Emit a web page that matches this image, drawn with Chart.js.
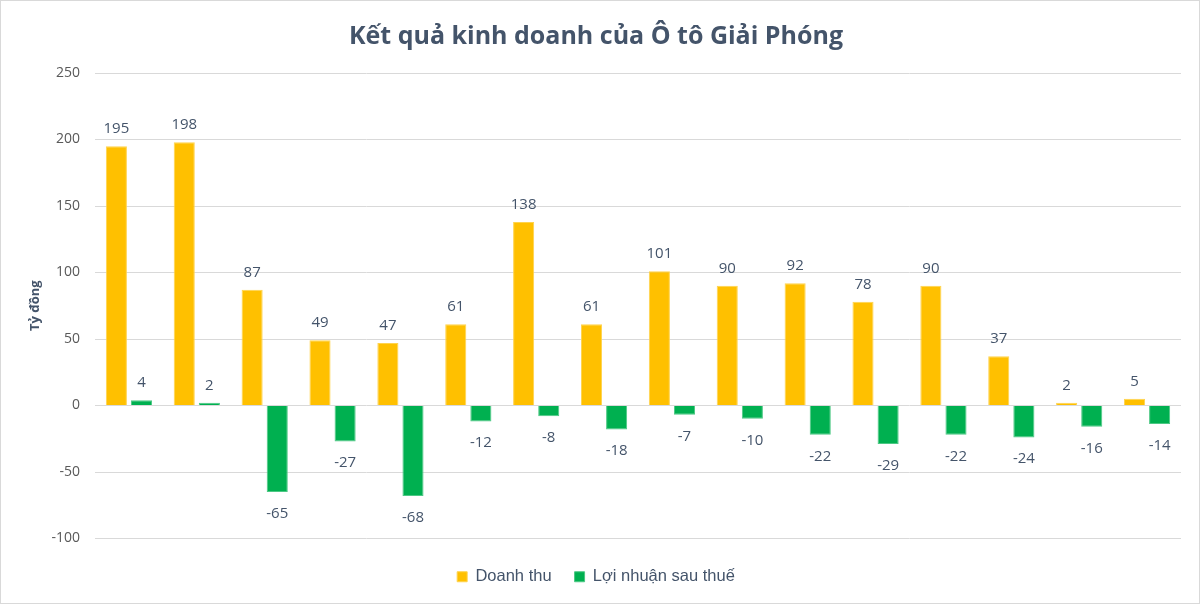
<!DOCTYPE html>
<html><head><meta charset="utf-8">
<script src="https://cdn.jsdelivr.net/npm/chart.js@4.4.0/dist/chart.umd.min.js"></script>
<style>
html,body{margin:0;padding:0;background:#fff;}
#wrap{position:absolute;left:0;top:0;width:1198px;height:602px;border:1px solid #d9d9d9;}
</style></head>
<body><div id="wrap"><canvas id="c" width="1198" height="602"></canvas></div>
<script>
const categories = ["1","2","3","4","5","6","7","8","9","10","11","12","13","14","15","16"];
const revenue = [195,198,87,49,47,61,138,61,101,90,92,78,90,37,2,5];
const profit = [4,2,-65,-27,-68,-12,-8,-18,-7,-10,-22,-29,-22,-24,-16,-14];
const yTicks = [250,200,150,100,50,0,-50,-100];

const labelPlugin = {
  id:'barLabels',
  afterDatasetsDraw(chart){
    const ctx = chart.ctx;
    ctx.save();
    ctx.font = '15px "Open Sans", sans-serif';
    ctx.fillStyle = '#44546A';
    ctx.textAlign = 'center';
    chart.data.datasets.forEach((ds,i)=>{
      const meta = chart.getDatasetMeta(i);
      meta.data.forEach((bar,j)=>{
        const v = ds.data[j];
        if(v>=0){ ctx.textBaseline='bottom'; ctx.fillText(String(v), bar.x, bar.y-10); }
        else { ctx.textBaseline='top'; ctx.fillText(String(v), bar.x, bar.y+14); }
      });
    });
    ctx.restore();
  }
};

new Chart(document.getElementById('c'),{
  type:'bar',
  data:{labels:categories,datasets:[
    {label:'Doanh thu',data:revenue,backgroundColor:'#FFC000',borderColor:'#FFD34D',borderWidth:1,barPercentage:0.84,categoryPercentage:0.74},
    {label:'Lợi nhuận sau thuế',data:profit,backgroundColor:'#00B050',borderColor:'#4CC884',borderWidth:1,barPercentage:0.84,categoryPercentage:0.74}
  ]},
  options:{
    responsive:false,animation:false,
    layout:{padding:{left:10,right:18,top:10,bottom:8}},
    plugins:{
      title:{display:true,text:'Kết quả kinh doanh của Ô tô Giải Phóng',color:'#44546A',font:{family:'"Open Sans", sans-serif',size:25,weight:'bold'},padding:{top:11,bottom:21}},
      legend:{position:'bottom',labels:{boxWidth:10,boxHeight:10,color:'#44546A',font:{family:'"Liberation Sans", Arial, sans-serif',size:16.5},padding:23}},
      tooltip:{enabled:false}
    },
    scales:{
      x:{grid:{display:false,drawTicks:false},border:{display:false},ticks:{display:false},afterFit(ax){ax.height=7;}},
      y:{min:-100,max:250,afterBuildTicks(ax){ax.ticks=yTicks.map(v=>({value:v}));},
        afterFit(ax){ax.width=84;},
        grid:{color:'#d9d9d9',drawTicks:false},border:{display:false},
        ticks:{color:'#595959',padding:15,font:{family:'"Open Sans", sans-serif',size:14}},
        title:{display:true,text:'Tỷ đồng',color:'#44546A',font:{family:'"Open Sans", sans-serif',size:13,weight:'bold'},padding:{top:16,bottom:0}}}
    }
  },
  plugins:[labelPlugin]
});
</script></body></html>
